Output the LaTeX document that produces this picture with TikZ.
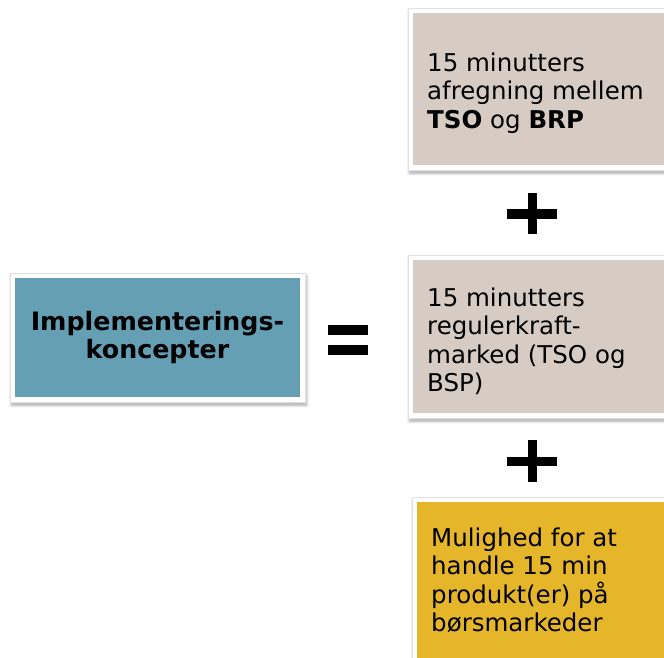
\documentclass[tikz,border=0pt]{standalone}
\usepackage{fontspec}
\setmainfont{DejaVu Sans}
\usetikzlibrary{shadows.blur}
\definecolor{tealbox}{RGB}{100,159,180}
\definecolor{sandbox}{RGB}{214,204,196}
\definecolor{goldbox}{RGB}{229,181,42}
\begin{document}
\begin{tikzpicture}[x=1pt,y=-1pt,
    tile/.style={draw=black!12, line width=.4pt, fill=white, inner sep=0,
      blur shadow={shadow xshift=1.5pt, shadow yshift=-3pt,
        shadow blur radius=3pt, shadow opacity=35},
      path picture={\fill [#1] ([shift={(5pt,-5pt)}]path picture bounding box.north west)
        rectangle ([shift={(-5pt,5pt)}]path picture bounding box.south east);}},
    say/.style={anchor=base west, inner sep=0, align=left,
      font=\fontsize{24.5}{28.5}\selectfont},
    bar/.style={fill=black}]
  \useasboundingbox (0,0) rectangle (664,657);
  \clip (0,0) rectangle (664,657);
  % venstre side
  \node [tile=tealbox, minimum width=295pt, minimum height=129pt, align=center,
    font=\bfseries\fontsize{25.3}{27.5}\selectfont] (imp) at (157.5,337.5)
    {Implementerings-\\koncepter};
  % lighedstegn
  \fill [bar] (328,325) rectangle (368,335);
  \fill [bar] (328,345) rectangle (368,355);
  % hoejre side
  \node [tile=sandbox, minimum width=282pt, minimum height=162pt] (tso) at (549,89) {};
  \node [tile=sandbox, minimum width=282pt, minimum height=163pt] (rk) at (549,336.5) {};
  \node [tile=goldbox, minimum width=278pt, minimum height=193pt] (bors) at (551,593.5) {};
  \node [say] (tsoTxt) at (427,128) {15 minutters\\afregning mellem\\\textbf{TSO} og \textbf{BRP}};
  \node [say] (rkTxt) at (427,391.5) {15 minutters\\regulerkraft-\\marked (TSO og\\BSP)};
  \node [say] (borsTxt) at (431,631.5) {Mulighed for at\\handle 15 min\\produkt(er) på\\børsmarkeder};
  % plustegn
  \fill [bar] (507,209) rectangle (557,218.5);
  \fill [bar] (527.5,193) rectangle (537,234);
  \fill [bar] (507,456.5) rectangle (557,466);
  \fill [bar] (527.5,440) rectangle (537,482);
\end{tikzpicture}
\end{document}
